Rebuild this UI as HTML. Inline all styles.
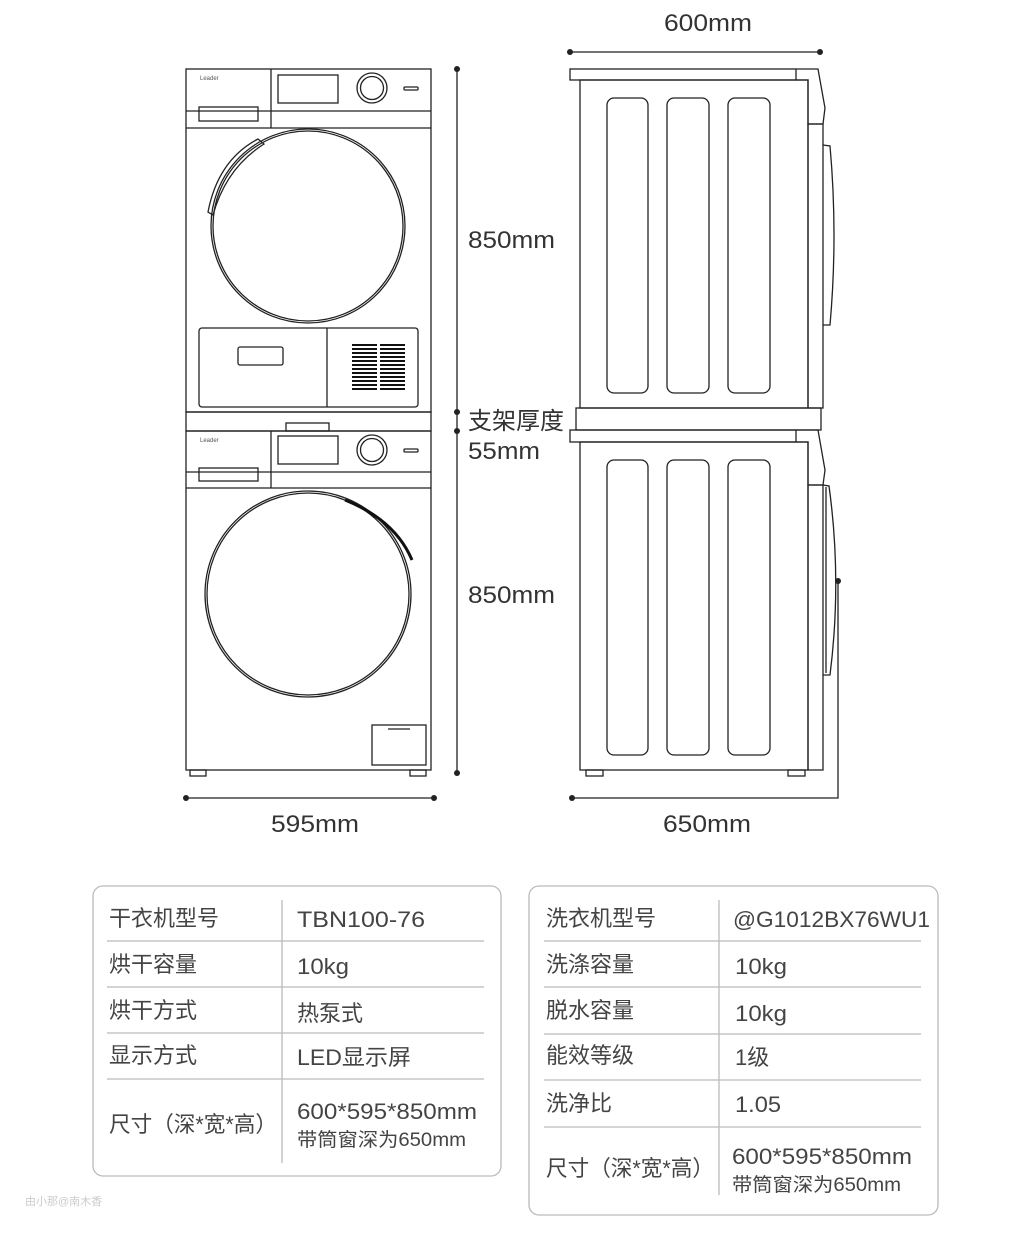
<!DOCTYPE html>
<html><head><meta charset="utf-8"><style>
html,body{margin:0;padding:0;background:#fff}
svg{display:block}
text{font-family:"Liberation Sans","Noto Sans CJK SC",sans-serif}
</style></head><body>
<svg width="1016" height="1238" viewBox="0 0 1016 1238" xmlns="http://www.w3.org/2000/svg">
<g fill="none" stroke="#222" stroke-width="1.3">
<rect x="186" y="69" width="245" height="343"/>
<line x1="271" y1="69" x2="271" y2="128"/>
<line x1="186" y1="111" x2="431" y2="111"/>
<line x1="186" y1="128" x2="431" y2="128"/>
<rect x="199" y="107" width="59" height="14"/>
<rect x="278" y="75" width="60" height="28"/>
<circle cx="372" cy="88" r="15"/><circle cx="372" cy="88" r="11.5"/>
<rect x="404" y="87" width="14" height="3" rx="1"/>
<circle cx="308" cy="226" r="97"/><circle cx="308" cy="226" r="95"/>
<path d="M208 212 Q218 160 258 139 L264 144 Q226 168 213 215 Z"/>
<rect x="199" y="328" width="219" height="79" rx="3"/>
<line x1="327" y1="328" x2="327" y2="407"/>
<rect x="238" y="347" width="45" height="18" rx="2"/>
<rect x="186" y="412" width="245" height="19"/>
<rect x="286" y="423" width="43" height="8"/>
<rect x="186" y="431" width="245" height="339"/>
<line x1="271" y1="431" x2="271" y2="488"/>
<line x1="186" y1="472" x2="431" y2="472"/>
<line x1="186" y1="488" x2="431" y2="488"/>
<rect x="199" y="468" width="59" height="13"/>
<rect x="278" y="436" width="60" height="28"/>
<circle cx="372" cy="450" r="15"/><circle cx="372" cy="450" r="11.5"/>
<rect x="404" y="449" width="14" height="3" rx="1"/>
<circle cx="308" cy="594" r="103"/><circle cx="308" cy="594" r="101"/>
<rect x="372" y="725" width="54" height="40"/>
<line x1="388" y1="729" x2="410" y2="729"/>
<rect x="190" y="770" width="16" height="6"/><rect x="410" y="770" width="16" height="6"/>
<rect x="570" y="69" width="226" height="11"/>
<path d="M796 69 L818 69 L825 108 L823 124 L808 124 L808 80 L796 80"/>
<rect x="580" y="80" width="228" height="328"/>
<rect x="808" y="124" width="15" height="284"/>
<path d="M823 145 L830 146 Q838 235 830 325 L823 325"/>
<rect x="607" y="98" width="41" height="295" rx="7"/>
<rect x="667" y="98" width="42" height="295" rx="7"/>
<rect x="728" y="98" width="42" height="295" rx="7"/>
<rect x="576" y="408" width="245" height="22"/>
<rect x="570" y="430" width="226" height="12"/>
<path d="M796 430 L818 430 L825 470 L823 485 L808 485 L808 442 L796 442"/>
<rect x="580" y="442" width="228" height="328"/>
<rect x="808" y="485" width="15" height="285"/>
<path d="M823 485 L829 486 Q842 580 830 675 L823 675"/>
<line x1="826" y1="487" x2="826" y2="673"/>
<rect x="607" y="460" width="41" height="295" rx="7"/>
<rect x="667" y="460" width="42" height="295" rx="7"/>
<rect x="728" y="460" width="42" height="295" rx="7"/>
<rect x="586" y="770" width="17" height="6"/><rect x="788" y="770" width="17" height="6"/>
</g>
<path d="M345 500 Q395 520 412 560" fill="none" stroke="#111" stroke-width="3"/>
<g fill="#111">
<g id="vent">
<rect x="352" y="344" width="25" height="2"/><rect x="352" y="348" width="25" height="2"/><rect x="352" y="352" width="25" height="2"/><rect x="352" y="356" width="25" height="2"/><rect x="352" y="360" width="25" height="2"/><rect x="352" y="364" width="25" height="2"/><rect x="352" y="368" width="25" height="2"/><rect x="352" y="372" width="25" height="2"/><rect x="352" y="376" width="25" height="2"/><rect x="352" y="380" width="25" height="2"/><rect x="352" y="384" width="25" height="2"/><rect x="352" y="388" width="25" height="2"/>
</g>
<use href="#vent" x="28"/>
</g>
<text x="200" y="80" font-size="6" fill="#555">Leader</text>
<text x="200" y="442" font-size="6" fill="#555">Leader</text>
<g stroke="#222" stroke-width="1.3" fill="none">
<line x1="186" y1="798" x2="434" y2="798"/>
<line x1="457" y1="69" x2="457" y2="773"/>
<line x1="570" y1="52" x2="820" y2="52"/>
<polyline points="572,798 838,798 838,581"/>
</g>
<g fill="#222">
<circle cx="186" cy="798" r="3"/><circle cx="434" cy="798" r="3"/>
<circle cx="457" cy="69" r="3"/><circle cx="457" cy="412" r="3"/><circle cx="457" cy="431" r="3"/><circle cx="457" cy="773" r="3"/>
<circle cx="570" cy="52" r="3"/><circle cx="820" cy="52" r="3"/>
<circle cx="572" cy="798" r="3"/><circle cx="838" cy="581" r="3"/>
</g>
<g font-size="24" fill="#333">
<text x="664" y="31" textLength="88" lengthAdjust="spacingAndGlyphs">600mm</text>
<text x="468" y="248" textLength="87" lengthAdjust="spacingAndGlyphs">850mm</text>
<text x="468" y="429">支架厚度</text>
<text x="468" y="459" textLength="72" lengthAdjust="spacingAndGlyphs">55mm</text>
<text x="468" y="603" textLength="87" lengthAdjust="spacingAndGlyphs">850mm</text>
<text x="271" y="832" textLength="88" lengthAdjust="spacingAndGlyphs">595mm</text>
<text x="663" y="832" textLength="88" lengthAdjust="spacingAndGlyphs">650mm</text>
</g>
<g fill="none" stroke="#bbb" stroke-width="1.3">
<rect x="93" y="886" width="408" height="290" rx="10"/>
<line x1="282" y1="900" x2="282" y2="1163"/>
<line x1="107" y1="941" x2="484" y2="941"/><line x1="107" y1="987" x2="484" y2="987"/>
<line x1="107" y1="1033" x2="484" y2="1033"/><line x1="107" y1="1079" x2="484" y2="1079"/>
<rect x="529" y="886" width="409" height="329" rx="10"/>
<line x1="719" y1="900" x2="719" y2="1195"/>
<line x1="544" y1="941" x2="921" y2="941"/><line x1="544" y1="987" x2="921" y2="987"/>
<line x1="544" y1="1034" x2="921" y2="1034"/><line x1="544" y1="1080" x2="921" y2="1080"/>
<line x1="544" y1="1127" x2="921" y2="1127"/>
</g>
<g font-size="22" fill="#444">
<text x="109" y="926">干衣机型号</text>
<text x="297" y="927" textLength="128" lengthAdjust="spacingAndGlyphs">TBN100-76</text>
<text x="109" y="972">烘干容量</text>
<text x="297" y="974" textLength="52" lengthAdjust="spacingAndGlyphs">10kg</text>
<text x="109" y="1018">烘干方式</text><text x="297" y="1021">热泵式</text>
<text x="109" y="1063">显示方式</text>
<text x="297" y="1065" textLength="114" lengthAdjust="spacingAndGlyphs">LED显示屏</text>
<text x="109" y="1132" textLength="168" lengthAdjust="spacingAndGlyphs">尺寸（深*宽*高）</text>
<text x="297" y="1119" textLength="180" lengthAdjust="spacingAndGlyphs">600*595*850mm</text>
<text x="297" y="1146" font-size="19" textLength="169" lengthAdjust="spacingAndGlyphs">带筒窗深为650mm</text>
<text x="546" y="926">洗衣机型号</text>
<text x="733" y="927" textLength="197" lengthAdjust="spacingAndGlyphs">@G1012BX76WU1</text>
<text x="546" y="972">洗涤容量</text>
<text x="735" y="974" textLength="52" lengthAdjust="spacingAndGlyphs">10kg</text>
<text x="546" y="1018">脱水容量</text>
<text x="735" y="1021" textLength="52" lengthAdjust="spacingAndGlyphs">10kg</text>
<text x="546" y="1063">能效等级</text><text x="735" y="1065">1级</text>
<text x="546" y="1111">洗净比</text>
<text x="735" y="1112" textLength="46" lengthAdjust="spacingAndGlyphs">1.05</text>
<text x="546" y="1176" textLength="168" lengthAdjust="spacingAndGlyphs">尺寸（深*宽*高）</text>
<text x="732" y="1164" textLength="180" lengthAdjust="spacingAndGlyphs">600*595*850mm</text>
<text x="732" y="1191" font-size="19" textLength="169" lengthAdjust="spacingAndGlyphs">带筒窗深为650mm</text>
</g>
<text x="25" y="1205" font-size="11" fill="#ccc">由小那@南木香</text>
</svg>
</body></html>
